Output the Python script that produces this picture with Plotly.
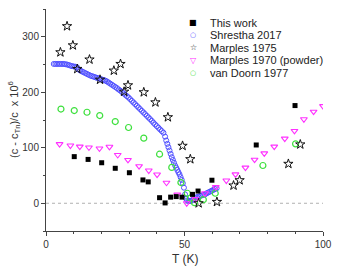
import plotly.graph_objects as go

# ---------------- data ----------------
this_work_T = [10.2, 15.2, 20.1, 25.0, 30.1, 35.0, 36.9, 41.0, 43.0, 45.0, 47.0, 49.1, 52.9, 54.9, 59.9, 75.9, 89.9]
this_work_v = [84, 79, 73, 63, 55, 42, 38.5, 10, 0.6, 11, 12, 11, 16, 22, 41.5, 105, 176]

shrestha_T = [
    2.8, 3.4, 4.0, 4.6, 5.2, 5.8, 6.4, 7.0, 7.6, 8.2,
    8.8, 9.4, 10.0, 10.6, 11.2, 11.8, 12.4, 13.0, 13.6, 14.2,
    14.8, 15.4, 16.0, 16.6, 17.2, 17.8, 18.4, 19.0, 19.6, 20.2,
    20.8, 21.4, 22.0, 22.6, 23.2, 23.8, 24.4, 25.0, 25.6, 26.2,
    26.8, 27.4, 28.0, 28.6, 29.2, 29.8, 30.4, 31.0, 31.6, 32.2,
    32.8, 33.4, 34.0, 34.6, 35.2, 35.8, 36.4, 37.0, 37.6, 38.2,
    38.8, 39.4, 40.0, 40.6, 41.2, 41.8, 42.4, 43.0, 43.4, 43.8,
    44.2, 44.6, 45.0, 45.4, 45.8, 46.2, 46.6, 47.0, 47.4, 47.8,
    48.2, 48.6, 49.0, 49.4, 49.8, 50.2, 50.6, 51.0, 51.5, 52.0,
    52.6, 53.2, 53.8, 54.4, 55.0, 55.6, 56.2, 56.8, 57.4, 58.0,
    58.6, 59.2, 59.8, 60.4, 61.0, 61.6,
]
shrestha_v = [
    251, 251, 251, 251, 251, 251, 251, 250.5, 250, 249,
    248, 247, 246.5, 246, 245, 241, 239, 237.5, 236, 234.5,
    233, 231.5, 230, 229, 228, 227, 226, 225, 224, 223,
    222, 221, 219.5, 217.5, 215.5, 213.5, 211.5, 209.5, 207.5, 205,
    203, 200.5, 198, 195.5, 193, 190.5, 187.5, 184.5, 181.5, 178.5,
    175.5, 172.5, 169.5, 166.5, 163.5, 160.5, 157.5, 154.5, 151.5, 148.5,
    145, 142, 139, 136, 133, 130, 127, 120, 113, 107,
    101, 95, 89, 83, 78, 73, 68, 64, 60, 56,
    52, 47, 42, 36, 28, 16, 8, 5, 4, 4,
    5, 7, 9, 11, 12, 13, 14, 15, 16, 18,
    19.5, 21, 22.5, 24, 25.5, 27,
]

marples75_T = [5.2, 7.6, 9.7, 11.3, 15.7, 19.5, 24.5, 26.9, 28.2, 29.6, 35.3, 39.5, 44.0, 49.3, 52.1, 55.1, 61.7, 67.7, 69.9, 87.5, 91.8]
marples75_v = [272, 319, 284.5, 242, 259, 222.6, 239, 251, 201, 212.5, 200, 181.8, 155, 103.5, 79.4, 0, 2.4, 32, 41.5, 71, 106]

marples70_T = [4.9, 8.8, 12.2, 15.5, 19.3, 22.9, 25.9, 29.6, 33.6, 37.1, 40.1, 43.5, 47.4, 50.8, 53.9, 57.4, 61.3, 65.1, 68.4, 72.0, 75.3, 78.8, 82.4, 86.2, 89.7, 93.1, 96.6, 100.0]
marples70_v = [106.5, 104, 102, 100.5, 98.7, 101.7, 87, 78, 66.8, 59, 51.7, 37, 15.5, 0, 7.5, 18, 29, 41, 52, 64.2, 78.5, 89.8, 102, 116.5, 130.3, 151.3, 165, 175]

vandoorn_T = [5.4, 10.2, 14.8, 19.4, 25.0, 29.8, 35.3, 41.0, 45.4, 48.7, 51.0, 52.1, 53.6, 56.8, 61.1, 78.3, 90.1]
vandoorn_v = [169.7, 167, 164, 158, 147.2, 136.5, 117.3, 88.4, 64.6, 37.3, 18, 9, 1, 6.5, 18, 68, 107]

legend_labels = ["This work", "Shrestha 2017", "Marples 1975", "Marples 1970 (powder)", "van Doorn 1977"]
x_title = "T (K)"
y_title = "(c - c<sub>Tn</sub>)/c  x 10<sup>6</sup>"

x_range = [0, 100]
y_range = [-50, 350]

# ---------------- styles ----------------
BLUE = "#5050ff"
GREEN = "#3ee03e"
MAGENTA = "#ff30ff"
AXC = "#444444"
FONT = "Liberation Sans, Arial, sans-serif"

fig = go.Figure()

fig.add_trace(go.Scatter(x=shrestha_T, y=shrestha_v, mode="markers", name=legend_labels[1],
                         marker=dict(symbol="circle-open", size=5, color=BLUE, line=dict(width=1, color=BLUE))))
fig.add_trace(go.Scatter(x=vandoorn_T, y=vandoorn_v, mode="markers", name=legend_labels[4],
                         marker=dict(symbol="circle-open", size=6, color=GREEN, line=dict(width=1.2, color=GREEN))))
fig.add_trace(go.Scatter(x=marples70_T, y=marples70_v, mode="markers", name=legend_labels[3],
                         marker=dict(symbol="triangle-down-open", size=6, color=MAGENTA, line=dict(width=1.1, color=MAGENTA))))
fig.add_trace(go.Scatter(x=marples75_T, y=marples75_v, mode="markers", name=legend_labels[2],
                         marker=dict(symbol="star-open", size=7, color="#111111", line=dict(width=1, color="#111111"))))
fig.add_trace(go.Scatter(x=this_work_T, y=this_work_v, mode="markers", name=legend_labels[0],
                         marker=dict(symbol="square", size=5, color="#000000", line=dict(width=0))))

# dashed zero line
fig.add_shape(type="line", xref="paper", yref="y", x0=0, x1=1, y0=0, y1=0,
              line=dict(color="#b0b0b0", width=1, dash="3px,3px"), layer="below")

W, H = 343, 271
ml, mr, mt, mb = 46, 20, 9, 40
pw, ph = W - ml - mr, H - mt - mb

def px_x(p):
    return (p - ml) / pw

def px_y(p):
    return 1 - (p - mt) / ph

# manual compact legend (text annotations with glyph keys)
key_px_x = 193
text_px_x = 208
rows_px_y = [22.7, 35.2, 47.8, 60.4, 73.0]
glyphs = ["■", "○", "☆", "▽", "○"]
gcolors = ["#000000", BLUE, "#111111", MAGENTA, GREEN]
gsizes = [8, 7, 8, 8, 7]
for lab, g, c, s, py in zip(legend_labels, glyphs, gcolors, gsizes, rows_px_y):
    fig.add_annotation(xref="paper", yref="paper", x=px_x(key_px_x), y=px_y(py), text=g,
                       showarrow=False, xanchor="center", yanchor="middle",
                       font=dict(family="DejaVu Sans", size=s, color=c))
    fig.add_annotation(xref="paper", yref="paper", x=px_x(text_px_x), y=px_y(py), text=lab,
                       showarrow=False, xanchor="left", yanchor="middle",
                       font=dict(family=FONT, size=11, color="#222222"))

# axis titles
fig.add_annotation(xref="paper", yref="paper", x=0.5, y=px_y(259), text=x_title, showarrow=False,
                   xanchor="center", yanchor="middle", font=dict(family=FONT, size=12, color="#333333"))
fig.add_annotation(xref="paper", yref="paper", x=px_x(14), y=0.5, text=y_title, showarrow=False,
                   textangle=-90, xanchor="center", yanchor="middle", font=dict(family=FONT, size=11, color="#333333"))

axis_common = dict(showgrid=False, zeroline=False, showline=True, linecolor=AXC, linewidth=1, automargin=False)

fig.update_layout(
    width=W, height=H,
    margin=dict(l=ml, r=mr, t=mt, b=mb, pad=0, autoexpand=False),
    paper_bgcolor="white", plot_bgcolor="white",
    showlegend=False,
    hovermode=False,
    font=dict(family=FONT, size=10, color="#333333"),
    xaxis=dict(range=x_range, tickvals=[0, 50, 100], ticks="outside", ticklen=4, tickcolor=AXC,
               minor=dict(dtick=10, ticks="outside", ticklen=2, tickcolor=AXC),
               tickfont=dict(size=10), **axis_common),
    yaxis=dict(range=y_range, tickvals=[0, 100, 200, 300], ticks="outside", ticklen=4, tickcolor=AXC,
               minor=dict(dtick=50, ticks="outside", ticklen=2, tickcolor=AXC),
               tickfont=dict(size=10), **axis_common),
    xaxis2=dict(range=x_range, overlaying="x", side="top", anchor="y", tickvals=[0, 50, 100],
                ticks="inside", ticklen=3, tickcolor=AXC, showticklabels=False,
                minor=dict(dtick=10, ticks="inside", ticklen=2, tickcolor=AXC), **axis_common),
    yaxis2=dict(range=y_range, overlaying="y", side="right", anchor="x", tickvals=[0, 100, 200, 300],
                ticks="inside", ticklen=3, tickcolor=AXC, showticklabels=False,
                minor=dict(dtick=50, ticks="inside", ticklen=2, tickcolor=AXC), **axis_common),
)

fig.write_html("out.html", config={"displayModeBar": False, "staticPlot": True},
               post_script="document.body.style.margin='0';document.body.style.padding='0';")
